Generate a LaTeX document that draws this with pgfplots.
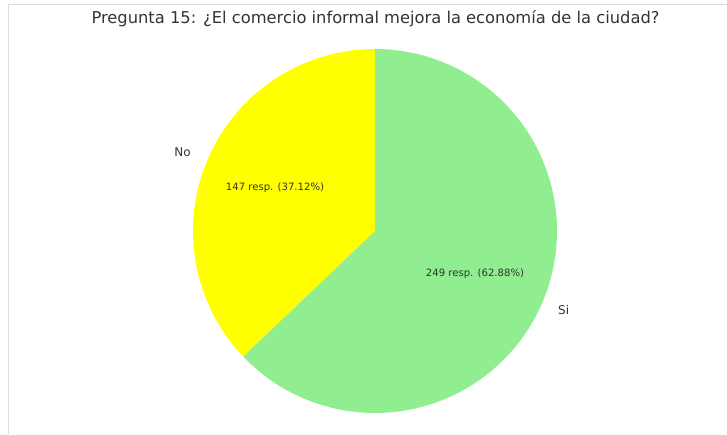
\documentclass[border=0pt]{standalone}
\usepackage{pgfplots}
\pgfplotsset{compat=1.18}
\usepackage{fontspec}
\setmainfont{DejaVu Sans}
\definecolor{lgreen}{HTML}{90EE90}
\definecolor{pyellow}{HTML}{FFFF00}
\definecolor{txt}{HTML}{333333}
\definecolor{frame}{HTML}{DDDDDD}
\def\vNo{147}
\def\vSi{249}
\pgfmathsetmacro\tot{\vNo+\vSi}
\pgfmathsetmacro\fNo{\vNo/\tot}
\pgfmathsetmacro\eNo{90+360*\fNo}
\pgfmathsetmacro\eSi{450}
\begin{document}
\begin{tikzpicture}
\begin{axis}[
  width=727pt, height=434pt, scale only axis,
  xmin=0, xmax=727, ymin=0, ymax=434,
  hide axis, clip=true,
]
\path (axis cs:0,0) rectangle (axis cs:727,434);
\draw[frame, line width=1.8pt] (axis cs:8.5,0) -- (axis cs:8.5,429.5) -- (axis cs:727,429.5);
\addplot[fill=pyellow, draw=none, domain=90:\eNo, samples=120, variable=\t]
  ({375+182*cos(\t)}, {203+182*sin(\t)}) -- (axis cs:375,203) -- cycle;
\addplot[fill=lgreen, draw=none, domain=\eNo:\eSi, samples=200, variable=\t]
  ({375+182*cos(\t)}, {203+182*sin(\t)}) -- (axis cs:375,203) -- cycle;
\node[txt, font=\fontsize{16.3}{18}\selectfont] at (axis cs:375.5,415) {Pregunta 15: ¿El comercio informal mejora la economía de la ciudad?};
\node[txt, anchor=east, inner sep=0pt, font=\fontsize{12}{14}\selectfont] at (axis cs:191,282) {No};
\node[txt, anchor=west, inner sep=0pt, font=\fontsize{12}{14}\selectfont] at (axis cs:558,124) {Si};
\node[txt, font=\fontsize{10.1}{12}\selectfont] at (axis cs:275,246) {147 resp. (37.12\%)};
\node[txt, font=\fontsize{10.1}{12}\selectfont] at (axis cs:475,160) {249 resp. (62.88\%)};
\end{axis}
\end{tikzpicture}
\end{document}
